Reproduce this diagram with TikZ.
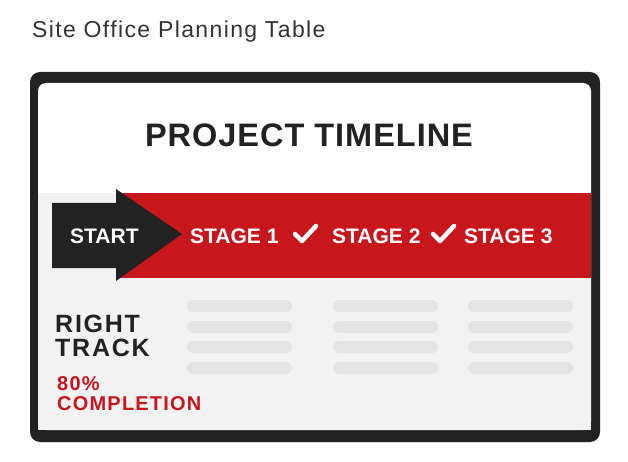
\documentclass[tikz,border=0pt]{standalone}
\usepackage{fontspec}
\setmainfont{Liberation Sans}
\newfontfamily\trackfont[LetterSpace=7]{Liberation Sans}
\newfontfamily\redfont[LetterSpace=6]{Liberation Sans}
\newfontfamily\titlefont[LetterSpace=3]{Liberation Sans}
\newfontfamily\capfont[LetterSpace=6]{Liberation Sans}
\definecolor{dark}{HTML}{222222}
\definecolor{brandred}{HTML}{C8161D}
\definecolor{panelgray}{HTML}{F2F2F2}
\definecolor{bargray}{HTML}{E4E4E4}
\definecolor{captiongray}{HTML}{333333}
\tikzset{
  band/.style={text=white, font=\fontsize{21}{21}\selectfont\bfseries, anchor=base west, inner sep=0pt},
  bar/.style={fill=bargray, rounded corners=6pt},
  tick/.style={draw=white, line width=4.5pt, line cap=round, line join=round},
}
\begin{document}
\begin{tikzpicture}[x=1pt,y=-1pt]
\useasboundingbox (0,0) rectangle (628,462);
\node[anchor=base west, inner sep=0pt, text=captiongray, font=\capfont\fontsize{23}{23}\selectfont] (caption) at (32,37.5) {Site Office Planning Table};
% frame
\fill[dark, rounded corners=10pt] (30,72) rectangle (600,442);
\fill[white, rounded corners=8pt] (38,83) rectangle (591,430);
\fill[panelgray] (38,193) rectangle (591,430);
\node[anchor=base, inner sep=0pt, text=dark, font=\titlefont\fontsize{32.5}{32.5}\selectfont\bfseries] (title) at (309,147) {PROJECT TIMELINE};
% band
\fill[brandred] (116,193) rectangle (591,278);
\fill[dark] (52,203) -- (116,203) -- (116,189) -- (182,234) -- (116,281) -- (116,268) -- (52,268) -- cycle;
\node[band] (start) at (70,243) {START};
\node[band] (s1) at (190,243) {STAGE 1};
\node[band] (s2) at (332,243) {STAGE 2};
\node[band] (s3) at (464,243) {STAGE 3};
\draw[tick] (295,234) -- (302,241) -- (316,226);
\draw[tick] (433,234) -- (440,241) -- (454,226);
% bottom texts
\node[anchor=base west, inner sep=0pt, text=dark, font=\trackfont\fontsize{25}{25}\selectfont\bfseries] (right) at (55,332) {RIGHT};
\node[anchor=base west, inner sep=0pt, text=dark, font=\trackfont\fontsize{25}{25}\selectfont\bfseries] (track) at (55,356) {TRACK};
\node[anchor=base west, inner sep=0pt, text=brandred, font=\redfont\fontsize{20}{20}\selectfont\bfseries] (pct) at (57,390.5) {80\%};
\node[anchor=base west, inner sep=0pt, text=brandred, font=\redfont\fontsize{20}{20}\selectfont\bfseries] (compl) at (57,410) {COMPLETION};
% bars
\foreach \x in {187,333,468}{
  \foreach \y in {300,321,341,362}{
    \fill[bar] (\x,\y) rectangle ++(105,12);
  }
}
\end{tikzpicture}
\end{document}
